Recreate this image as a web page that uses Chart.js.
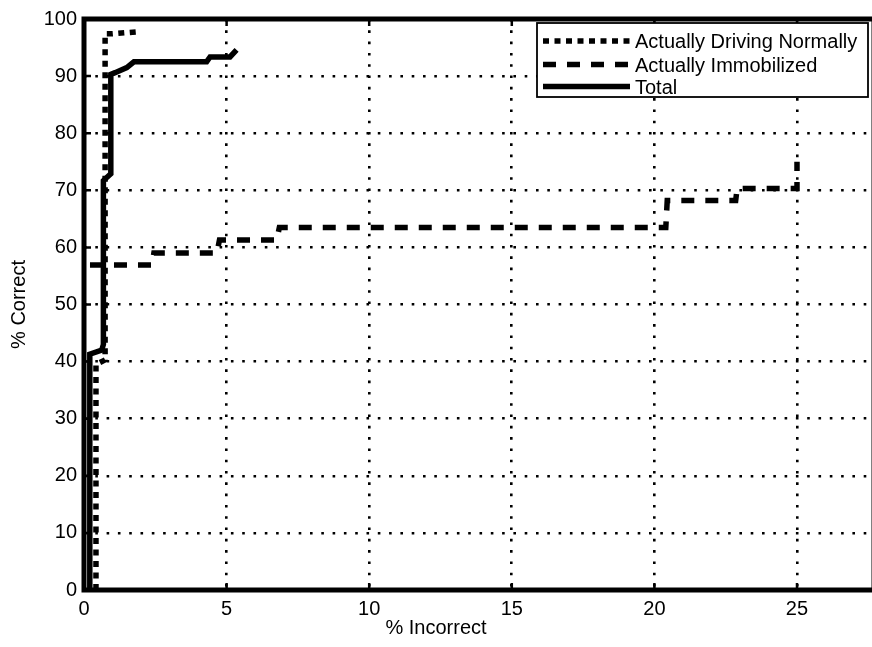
<!DOCTYPE html>
<html>
<head>
<meta charset="utf-8">
<script src="https://cdn.jsdelivr.net/npm/chart.js@4.4.1/dist/chart.umd.min.js"></script>
<style>
  html, body { margin: 0; padding: 0; background: #fff; overflow: hidden; }
  #wrap { width: 880px; height: 647px; }
</style>
</head>
<body>
<div id="wrap"><canvas id="roc" width="880" height="647"></canvas></div>
<script>
// Valores
const xTicks = [0, 5, 10, 15, 20, 25];
const yTicks = [0, 10, 20, 30, 40, 50, 60, 70, 80, 90, 100];
const seriesNames = ['Actually Driving Normally', 'Actually Immobilized', 'Total'];

const normalX = [0.42, 0.42, 0.74, 0.74, 1.0, 1.95];
const normalY = [0, 39.5, 40.3, 97.4, 97.4, 97.8];

const immobX = [0.21, 2.38, 2.45, 4.66, 4.75, 6.76, 6.85, 20.4, 20.45, 22.85, 22.9, 25.0, 25.0];
const immobY = [56.9, 56.9, 59.0, 59.0, 61.3, 61.3, 63.5, 63.5, 68.2, 68.2, 70.3, 70.3, 75.0];

const totalX = [0.19, 0.19, 0.21, 0.21, 0.62, 0.68, 0.68, 0.94, 0.94, 1.09, 1.5, 1.75, 4.3, 4.42, 5.12, 5.35];
const totalY = [0, 4, 5, 41.3, 42, 43, 71.7, 72.9, 90.3, 90.6, 91.5, 92.5, 92.5, 93.35, 93.35, 94.6];

const FONT = '"Liberation Sans", Arial, Helvetica, sans-serif';

function pts(xs, ys) {
    return xs.map((x, i) => ({ x: x, y: ys[i] }));
}

function serie(label, xs, ys, dash) {
    return {
        label: label,
        data: pts(xs, ys),
        borderColor: '#000',
        borderWidth: 5.5,
        borderDash: dash,
        borderCapStyle: 'butt',
        borderJoinStyle: 'miter',
        pointRadius: 0,
        fill: false,
        tension: 0
    };
}

// moldura, marcas internas, legenda e titulos dos eixos
const frame = {
    id: 'frame',
    afterDraw(chart) {
        const ctx = chart.ctx;
        const a = chart.chartArea;
        const sx = chart.scales.x, sy = chart.scales.y;
        ctx.save();
        ctx.strokeStyle = '#000';
        ctx.lineWidth = 2.5;
        ctx.beginPath();
        xTicks.forEach(v => {
            const px = sx.getPixelForValue(v);
            ctx.moveTo(px, a.bottom); ctx.lineTo(px, a.bottom - 7);
            ctx.moveTo(px, a.top); ctx.lineTo(px, a.top + 7);
        });
        yTicks.forEach(v => {
            const py = sy.getPixelForValue(v);
            ctx.moveTo(a.left, py); ctx.lineTo(a.left + 7, py);
        });
        ctx.stroke();

        ctx.lineWidth = 5;
        ctx.strokeRect(a.left, a.top, a.right - a.left, a.bottom - a.top);

        // legenda
        const box = { l: 537, t: 23, r: 868, b: 97 };
        ctx.fillStyle = '#fff';
        ctx.fillRect(box.l, box.t, box.r - box.l, box.b - box.t);
        ctx.lineWidth = 1.8;
        ctx.strokeRect(box.l, box.t, box.r - box.l, box.b - box.t);
        const rows = [41, 64.5, 86.5];
        chart.data.datasets.forEach((ds, i) => {
            ctx.beginPath();
            ctx.setLineDash(ds.borderDash || []);
            ctx.lineWidth = ds.borderWidth;
            ctx.lineCap = 'butt';
            ctx.moveTo(543, rows[i]);
            ctx.lineTo(630, rows[i]);
            ctx.stroke();
            ctx.setLineDash([]);
            ctx.fillStyle = '#000';
            ctx.font = '20px ' + FONT;
            ctx.textAlign = 'left';
            ctx.textBaseline = 'alphabetic';
            ctx.fillText(ds.label, 635, rows[i] + 7);
        });

        // titulos
        ctx.font = '20px ' + FONT;
        ctx.textAlign = 'center';
        ctx.textBaseline = 'middle';
        ctx.fillText('% Incorrect', 436, 628);
        ctx.translate(19, (a.top + a.bottom) / 2);
        ctx.rotate(-Math.PI / 2);
        ctx.fillText('% Correct', 0, 0);
        ctx.restore();
    }
};

new Chart(document.getElementById('roc').getContext('2d'), {
    type: 'line',
    data: {
        datasets: [
            serie(seriesNames[0], normalX, normalY, [6, 5.5]),
            serie(seriesNames[1], immobX, immobY, [13, 11]),
            serie(seriesNames[2], totalX, totalY, [])
        ]
    },
    options: {
        responsive: false,
        animation: false,
        layout: { padding: { top: 14, right: 6, left: 0, bottom: 0 } },
        plugins: { legend: { display: false }, tooltip: { enabled: false } },
        scales: {
            x: {
                type: 'linear',
                min: 0,
                max: 27.7,
                afterBuildTicks: s => { s.ticks = xTicks.map(v => ({ value: v })); },
                afterFit: s => { s.height = 57; },
                ticks: { color: '#000', padding: 7, font: { size: 20, family: FONT } },
                grid: { color: '#000', lineWidth: 2.6, drawTicks: false },
                border: { display: false, dash: [2.6, 8.7] }
            },
            y: {
                type: 'linear',
                min: 0,
                max: 100,
                afterBuildTicks: s => { s.ticks = yTicks.map(v => ({ value: v })); },
                afterFit: s => { s.width = 84; },
                ticks: { color: '#000', padding: 7, font: { size: 20, family: FONT } },
                grid: { color: '#000', lineWidth: 2.6, drawTicks: false },
                border: { display: false, dash: [2.6, 8.7] }
            }
        }
    },
    plugins: [frame]
});
</script>
</body>
</html>
